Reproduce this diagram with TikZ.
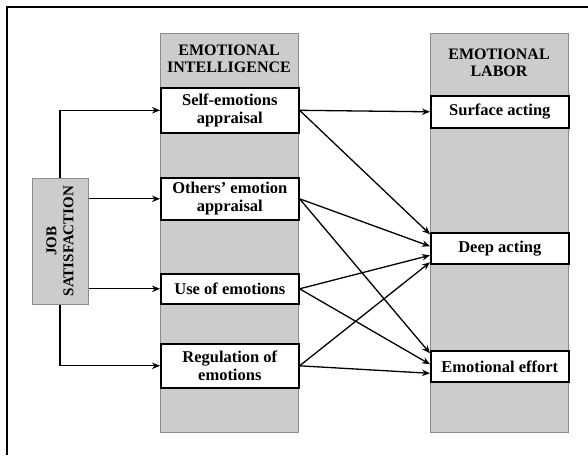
\documentclass[tikz,border=0pt]{standalone}
\usepackage{fontspec}
\setmainfont{Liberation Serif}
\usetikzlibrary{arrows.meta}
\definecolor{panelgray}{RGB}{204,204,204}
\definecolor{edgegray}{RGB}{140,140,140}
\tikzset{
  panel/.style={draw=edgegray, fill=panelgray, line width=1pt, minimum width=138pt, anchor=north west, inner sep=0pt},
  item/.style={draw, fill=white, line width=1.6pt, minimum width=138pt, anchor=north west, inner sep=0pt, align=center, font=\bfseries\fontsize{16.5}{18}\selectfont},
  head/.style={align=center, font=\bfseries\fontsize{16}{17.5}\selectfont},
  link/.style={-{Stealth[length=8pt,width=6.5pt]}, line width=1.3pt},
}
\begin{document}
\begin{tikzpicture}[x=1pt, y=-1pt]
\useasboundingbox (0,0) rectangle (588,455);
\draw[line width=2pt] (7,455) -- (7,7) -- (588,7);
% the two columns
\node[panel, minimum height=399pt] (eicol) at (160,33) {};
\node[panel, minimum height=399pt] (elcol) at (430,33) {};
\node[head] (eihead) at (229,59) {EMOTIONAL\\INTELLIGENCE};
\node[head] (elhead) at (499,63) {EMOTIONAL\\LABOR};
% emotional intelligence
\node[item, minimum height=45pt] (self) at (160,87) {Self-emotions\\appraisal};
\node[item, minimum height=42pt] (others) at (160,177) {Others' emotion\\appraisal};
\node[item, minimum height=30pt] (use) at (160,273) {Use of emotions};
\node[item, minimum height=44pt] (reg) at (160,343) {Regulation of\\emotions};
% emotional labor
\node[item, minimum height=32pt] (surface) at (430,95) {Surface acting};
\node[item, minimum height=31pt] (deep) at (430,232) {Deep acting};
\node[item, minimum height=31pt] (effort) at (430,350) {Emotional effort};
% job satisfaction
\node[draw=edgegray, fill=panelgray, line width=1pt, minimum width=56pt, minimum height=126pt] (js) at (60,241) {};
\node[head, font=\bfseries\fontsize{15}{17}\selectfont, rotate=90] (jstext) at (js.center) {JOB\\SATISFACTION};
\draw[link] (js.north) -- (js.north |- self.west) -- (self.west);
\draw[link] (js.south) -- (js.south |- reg.west) -- (reg.west);
\draw[link] (js.east |- others.west) -- (others.west);
\draw[link] (js.east |- use.west) -- (use.west);
% into emotional labor
\draw[link] (self.east) -- (surface.west);
\draw[link] (self.east) -- ([yshift=14pt]deep.west);
\draw[link] (others.east) -- ([yshift=2pt]deep.west);
\draw[link] (others.east) -- ([yshift=13pt]effort.west);
\draw[link] (use.east) -- ([yshift=-7pt]deep.west);
\draw[link] (use.east) -- ([yshift=2pt]effort.west);
\draw[link] (reg.east) -- ([yshift=-14pt]deep.west);
\draw[link] (reg.east) -- ([yshift=-7pt]effort.west);
\end{tikzpicture}
\end{document}
